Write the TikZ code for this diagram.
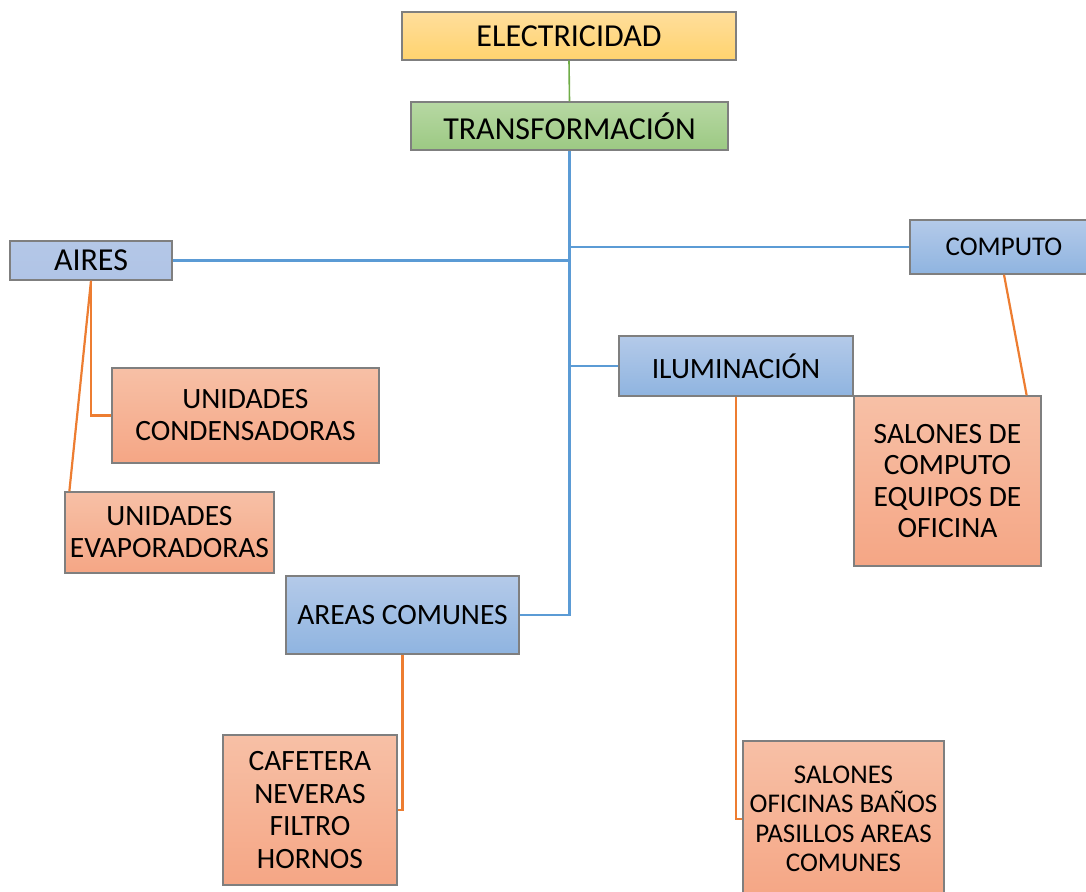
\documentclass[tikz,border=0pt]{standalone}
\usepackage{fontspec}
\setmainfont{Carlito}
\usetikzlibrary{calc}
\definecolor{bdr}{HTML}{7F7F7F}
\definecolor{lblue}{HTML}{5B9BD5}
\definecolor{lorange}{HTML}{ED7D31}
\definecolor{lgreen}{HTML}{70AD47}
\tikzset{
  box/.style={draw=bdr, line width=1.3pt, rectangle, inner sep=0pt, align=center},
  gbox/.style={box, top color={rgb,255:red,183;green,216;blue,163}, bottom color={rgb,255:red,156;green,201;blue,131}},
  bbox/.style={box, top color={rgb,255:red,180;green,202;blue,233}, bottom color={rgb,255:red,143;green,180;blue,224}},
  obox/.style={box, top color={rgb,255:red,247;green,192;blue,166}, bottom color={rgb,255:red,245;green,166;blue,133}},
  big/.style={font=\fontsize{32}{38}\selectfont},
  med/.style={font=\fontsize{29.5}{32}\selectfont},
  sml/.style={font=\fontsize{27}{29.5}\selectfont},
  bline/.style={draw=lblue, line width=2.2pt},
  oline/.style={draw=lorange, line width=2.2pt},
  gline/.style={draw=lgreen, line width=1.6pt},
}
\begin{document}
\begin{tikzpicture}[x=1pt,y=-1pt]
\useasboundingbox[fill=white] (0,0) rectangle (1086,891);
\node[box, top color={rgb,255:red,255;green,222;blue,156}, bottom color={rgb,255:red,255;green,211;blue,110}, big, minimum width=334pt, minimum height=48pt] (elec) at (569,36) {ELECTRICIDAD};
\node[gbox, big, minimum width=317pt, minimum height=48pt] (trans) at (569.5,126) {TRANSFORMACIÓN};
\node[bbox, big, minimum width=162pt, minimum height=39pt, top color={rgb,255:red,180;green,199;blue,231}, bottom color={rgb,255:red,176;green,196;blue,230}] (aires) at (91,260.5) {AIRES};
\node[bbox, sml, minimum width=188pt, minimum height=54pt] (computo) at (1004,247) {COMPUTO};
\node[bbox, med, minimum width=234pt, minimum height=60pt] (ilum) at (736,366) {ILUMINACIÓN};
\node[bbox, med, minimum width=233pt, minimum height=78pt] (areas) at (402.5,615) {AREAS COMUNES};
\node[obox, med, minimum width=267pt, minimum height=95pt] (cond) at (245.5,415.5) {UNIDADES\\CONDENSADORAS};
\node[obox, med, minimum width=209pt, minimum height=81pt] (evap) at (169.5,532.5) {UNIDADES\\EVAPORADORAS};
\node[obox, med, font=\fontsize{29.5}{31.5}\selectfont, minimum width=187pt, minimum height=170pt] (salcomp) at (947.5,481) {SALONES DE\\COMPUTO\\EQUIPOS DE\\OFICINA};
\node[obox, med, font=\fontsize{29.5}{32.7}\selectfont, minimum width=174pt, minimum height=150pt] (cafe) at (310,810) {CAFETERA\\NEVERAS\\FILTRO\\HORNOS};
\node[obox, sml, minimum width=201pt, minimum height=156pt] (salofi) at (843.5,819) {SALONES\\OFICINAS BAÑOS\\PASILLOS AREAS\\COMUNES};
% connectors
\draw[gline] (elec.south) -- (trans.north);
\draw[bline] (trans.south) |- (areas.east);
\draw[bline] (aires.east) -- (aires.east -| trans.south);
\draw[bline] (computo.west) -- (computo.west -| trans.south);
\draw[bline] (ilum.west) -- (ilum.west -| trans.south);
\draw[oline] (aires.south) |- (cond.west);
\draw[oline] (aires.south) -- ($(evap.north west)+(5,0)$);
\draw[oline] (computo.south) -- ($(salcomp.north east)+(-15,0)$);
\draw[oline] (areas.south) |- (cafe.east);
\draw[oline] (ilum.south) |- (salofi.west);
\end{tikzpicture}
\end{document}
